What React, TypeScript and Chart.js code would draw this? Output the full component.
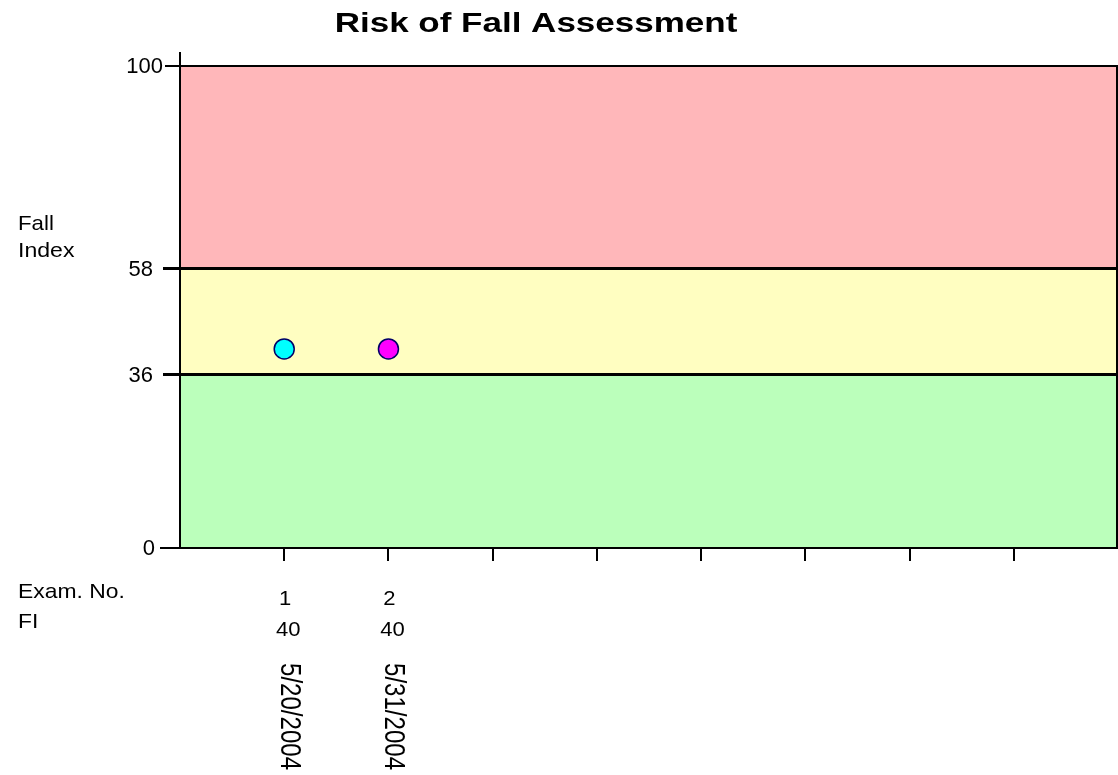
import React, { useEffect, useRef } from "react";
import { Chart, registerables } from "chart.js";

Chart.register(...registerables);

// ---- data ----
const chartTitle = "Risk of Fall Assessment";
const yAxisTitle = ["Fall", "Index"];
const rowLabels = ["Exam. No.", "FI"];
const examNumbers = [1, 2];
const fiScores = [40, 40]; // printed under the axis
const markerLevels = [41.3, 41.3]; // where the markers sit on the chart
const examDates = ["5/20/2004", "5/31/2004"];
const markerColors = ["#00FFFF", "#FF00FF"];
const yTickValues = [0, 36, 58, 100];
const zoneEdges = [0, 36, 58, 100];
const zoneColors = ["#BBFFBB", "#FFFEC1", "#FFB7BA"];
const thresholdLines = [36, 58];
const xTickValues = [1, 2, 3, 4, 5, 6, 7, 8];
const xMin = 0;
const xMax = 9;

const FONT = "'Liberation Sans', Arial, sans-serif";

function stretchText(
  ctx: CanvasRenderingContext2D,
  text: string,
  x: number,
  y: number,
  font: string,
  sx: number,
  align: CanvasTextAlign,
  baseline: CanvasTextBaseline = "alphabetic"
) {
  ctx.save();
  ctx.font = font;
  ctx.fillStyle = "#000";
  ctx.textAlign = align;
  ctx.textBaseline = baseline;
  ctx.translate(x, y);
  ctx.scale(sx, 1);
  ctx.fillText(text, 0, 0);
  ctx.restore();
}

const decorPlugin = {
  id: "fallDecor",
  beforeDatasetsDraw(chart: any) {
    const ctx: CanvasRenderingContext2D = chart.ctx;
    const { left, right, top, bottom } = chart.chartArea;
    const xs = chart.scales.x;
    const ys = chart.scales.y;
    ctx.save();

    // zones
    for (let i = 0; i < zoneColors.length; i++) {
      const yLow = ys.getPixelForValue(zoneEdges[i]);
      const yHigh = ys.getPixelForValue(zoneEdges[i + 1]);
      ctx.fillStyle = zoneColors[i];
      ctx.fillRect(left, yHigh, right - left, yLow - yHigh);
    }

    ctx.strokeStyle = "#000";
    ctx.lineCap = "butt";

    // threshold lines
    ctx.lineWidth = 3;
    thresholdLines.forEach((v) => {
      const py = ys.getPixelForValue(v);
      ctx.beginPath();
      ctx.moveTo(left - 17, py);
      ctx.lineTo(right, py);
      ctx.stroke();
    });

    ctx.lineWidth = 2;
    // top line at max
    const pTop = ys.getPixelForValue(100);
    ctx.beginPath();
    ctx.moveTo(left - 15, pTop);
    ctx.lineTo(right, pTop);
    ctx.stroke();

    // left axis
    ctx.beginPath();
    ctx.moveTo(left, top - 14);
    ctx.lineTo(left, bottom + 1);
    ctx.stroke();

    // bottom axis
    ctx.beginPath();
    ctx.moveTo(left - 20, bottom);
    ctx.lineTo(right, bottom);
    ctx.stroke();

    // right border
    ctx.beginPath();
    ctx.moveTo(right - 1, top);
    ctx.lineTo(right - 1, bottom);
    ctx.stroke();

    // x ticks
    xTickValues.forEach((v) => {
      const px = Math.round(xs.getPixelForValue(v));
      ctx.beginPath();
      ctx.moveTo(px, bottom);
      ctx.lineTo(px, bottom + 13);
      ctx.stroke();
    });

    // y tick labels
    yTickValues.forEach((v) => {
      const py = ys.getPixelForValue(v);
      const rightEdge = v >= 100 ? left - 17 : v === 0 ? left - 25 : left - 27;
      stretchText(ctx, String(v), rightEdge, py + 1, `22px ${FONT}`, 1.0, "right", "middle");
    });

    // title
    stretchText(ctx, chartTitle, 536, 32, `bold 28px ${FONT}`, 1.25, "center");

    // y-axis title
    stretchText(ctx, yAxisTitle[0], 18, 230, `21px ${FONT}`, 1.06, "left");
    stretchText(ctx, yAxisTitle[1], 18, 257, `21px ${FONT}`, 1.1, "left");

    // table row labels
    stretchText(ctx, rowLabels[0], 18, 598, `21px ${FONT}`, 1.09, "left");
    stretchText(ctx, rowLabels[1], 18, 628, `21px ${FONT}`, 1.09, "left");

    // table values and dates
    examNumbers.forEach((n, i) => {
      const px = xs.getPixelForValue(n);
      stretchText(ctx, String(n), px + 1, 605, `21px ${FONT}`, 1.05, "center");
      stretchText(ctx, String(fiScores[i]), px + 4, 636, `21px ${FONT}`, 1.05, "center");
      ctx.save();
      ctx.font = `29px ${FONT}`;
      ctx.fillStyle = "#000";
      ctx.textAlign = "left";
      ctx.textBaseline = "middle";
      ctx.translate(px + 5, 663);
      ctx.rotate(Math.PI / 2);
      ctx.scale(0.83, 1);
      ctx.fillText(examDates[i], 0, 0);
      ctx.restore();
    });

    ctx.restore();
  },
};

export default function App() {
  const canvasRef = useRef<HTMLCanvasElement | null>(null);

  useEffect(() => {
    document.body.style.margin = "0";
    const canvas = canvasRef.current;
    if (!canvas) return;
    const chart = new Chart(canvas, {
      type: "scatter",
      data: {
        datasets: [
          {
            data: examNumbers.map((n, i) => ({ x: n, y: markerLevels[i] })),
            pointBackgroundColor: markerColors,
            pointBorderColor: "#000066",
            pointBorderWidth: 1.5,
            pointRadius: 10,
            showLine: false,
          },
        ],
      },
      options: {
        responsive: false,
        animation: false,
        devicePixelRatio: 1,
        layout: { autoPadding: false, padding: { left: 180, right: 0, top: 66, bottom: 227 } },
        scales: {
          x: { type: "linear", min: xMin, max: xMax, display: false },
          y: { type: "linear", min: 0, max: 100, display: false },
        },
        plugins: {
          legend: { display: false },
          tooltip: { enabled: false },
          title: { display: false },
        },
      },
      plugins: [decorPlugin],
    });
    return () => chart.destroy();
  }, []);

  return (
    <canvas
      ref={canvasRef}
      width={1118}
      height={775}
      style={{ display: "block", width: 1118, height: 775 }}
    />
  );
}
